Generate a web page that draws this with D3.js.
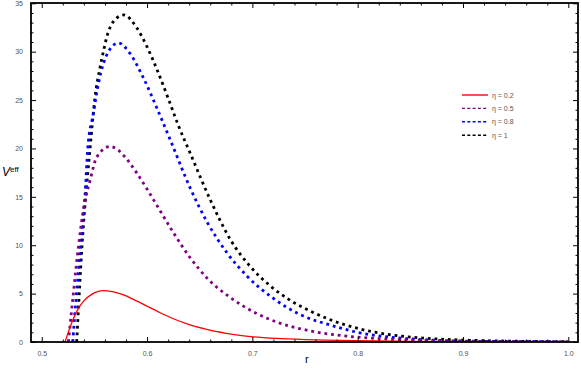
<!DOCTYPE html>
<html>
<head>
<meta charset="utf-8">
<script src="https://cdn.jsdelivr.net/npm/d3@7"></script>
<style>
  body { margin: 0; background: #fff; }
  .tick text { font-family: "Liberation Sans", Arial, sans-serif; font-size: 7px; fill: #555; }
</style>
</head>
<body>
<svg id="chart" width="581" height="369"></svg>
<script>
// series (r, V_eff)
var r02 = [0.5221, 0.526, 0.530, 0.535, 0.540, 0.547, 0.553, 0.5585, 0.567, 0.577, 0.590, 0.600, 0.612, 0.625, 0.640, 0.6567, 0.675, 0.690, 0.710, 0.733, 0.770, 0.800, 0.850, 0.900, 0.950, 1.000];
var v02 = [0, 1.25, 2.4, 3.5, 4.25, 4.9, 5.2, 5.3, 5.2, 4.9, 4.25, 3.7, 3.05, 2.4, 1.8, 1.3, 0.9, 0.65, 0.45, 0.33, 0.2, 0.14, 0.07, 0.04, 0.02, 0.01];

var r05 = [0.5253, 0.530, 0.535, 0.540, 0.5459, 0.5522, 0.5649, 0.573, 0.5807, 0.590, 0.600, 0.610, 0.625, 0.641, 0.657, 0.679, 0.704, 0.726, 0.755, 0.790, 0.821, 0.866, 0.900, 0.950, 1.000];
var v05 = [0, 5, 10, 14, 16.7, 19.1, 20.2, 19.8, 18.9, 17.5, 15.8, 14.0, 11.3, 8.7, 6.6, 4.6, 2.95, 1.95, 1.15, 0.6, 0.35, 0.14, 0.07, 0.03, 0.01];

var r08 = [0.5294, 0.533, 0.537, 0.541, 0.5437, 0.549, 0.5538, 0.5633, 0.5728, 0.5839, 0.5965, 0.610, 0.622, 0.641, 0.657, 0.676, 0.695, 0.720, 0.745, 0.774, 0.802, 0.831, 0.866, 0.900, 0.950, 1.000];
var v08 = [0, 5, 10, 15, 20, 23.6, 26.7, 30.0, 30.9, 29.8, 27.3, 24.0, 20.9, 15.9, 12.4, 9.2, 6.8, 4.5, 2.85, 1.75, 0.95, 0.5, 0.22, 0.1, 0.04, 0.02];

var r10 = [0.5332, 0.5383, 0.5459, 0.5506, 0.5554, 0.5585, 0.5617, 0.568, 0.578, 0.590, 0.600, 0.610, 0.620, 0.630, 0.641, 0.660, 0.679, 0.698, 0.717, 0.736, 0.755, 0.774, 0.802, 0.831, 0.866, 0.900, 0.950, 1.000];
var v10 = [0, 10, 20, 25.3, 28.4, 30, 31.5, 33.1, 33.8, 32.5, 30.5, 28.0, 25.2, 22.3, 19.5, 14.7, 10.6, 7.8, 5.8, 4.3, 3.2, 2.3, 1.35, 0.75, 0.38, 0.2, 0.08, 0.03];

var names = ["\u03B7 = 0.2", "\u03B7 = 0.5", "\u03B7 = 0.8", "\u03B7 = 1"];
var colors = ["#ff0000", "#800080", "#0000ff", "#000000"];
var xMajor = [0.5, 0.6, 0.7, 0.8, 0.9, 1.0];
var yMajor = [0, 5, 10, 15, 20, 25, 30, 35];

var series = [
  {name: names[0], color: colors[0], dotted: false, pts: r02.map(function(r, i) { return [r, v02[i]]; })},
  {name: names[1], color: colors[1], dotted: true,  pts: r05.map(function(r, i) { return [r, v05[i]]; })},
  {name: names[2], color: colors[2], dotted: true,  pts: r08.map(function(r, i) { return [r, v08[i]]; })},
  {name: names[3], color: colors[3], dotted: true,  pts: r10.map(function(r, i) { return [r, v10[i]]; })}
];

var svg = d3.select("#chart"),
    margin = {top: 3, right: 3, bottom: 27, left: 31},
    width = +svg.attr("width") - margin.left - margin.right,
    height = +svg.attr("height") - margin.top - margin.bottom,
    g = svg.append("g").attr("transform", "translate(" + margin.left + "," + margin.top + ")");

var x = d3.scaleLinear().domain([0.4898, 1.0092]).range([0, width]),
    y = d3.scaleLinear().domain([0, 35.03]).range([height, 0]);

var xMinor = d3.range(0.5, 1.001, 0.02).filter(function(v) { return Math.abs(v * 10 - Math.round(v * 10)) > 1e-6; });
var yMinor = d3.range(0, 36, 1).filter(function(v) { return v % 5 !== 0; });

// clip the curves to the frame
g.append("clipPath").attr("id", "clip")
  .append("rect").attr("width", width).attr("height", height);

var line = d3.line()
  .curve(d3.curveMonotoneX)
  .x(function(d) { return x(d[0]); })
  .y(function(d) { return y(d[1]); });

var plot = g.append("g").attr("clip-path", "url(#clip)");
// draw black first so the lower curves sit on top like the reference
series.slice().reverse().forEach(function(s) {
  plot.append("path")
    .attr("d", line(s.pts))
    .attr("fill", "none")
    .attr("stroke", s.color)
    .attr("stroke-width", s.dotted ? 2.8 : 1.3)
    .attr("stroke-dasharray", s.dotted ? "2.8,3.9" : null);
});

// axes: major with labels, minor ticks, mirrored on top/right
function styleAxis(sel) {
  sel.select(".domain").remove();
  sel.selectAll(".tick line").attr("stroke", "#000").attr("stroke-width", 1);
}
g.append("g").attr("transform", "translate(0," + height + ")")
  .call(d3.axisBottom(x).tickValues(xMajor).tickSize(-5).tickPadding(9).tickFormat(d3.format(".1f")))
  .call(styleAxis);
g.append("g").attr("transform", "translate(0," + height + ")")
  .call(d3.axisBottom(x).tickValues(xMinor).tickSize(-2.5).tickFormat(""))
  .call(styleAxis);
g.append("g")
  .call(d3.axisTop(x).tickValues(xMajor).tickSize(-5).tickFormat(""))
  .call(styleAxis);
g.append("g")
  .call(d3.axisTop(x).tickValues(xMinor).tickSize(-2.5).tickFormat(""))
  .call(styleAxis);
g.append("g")
  .call(d3.axisLeft(y).tickValues(yMajor).tickSize(-5).tickPadding(8))
  .call(styleAxis);
g.append("g")
  .call(d3.axisLeft(y).tickValues(yMinor).tickSize(-2.5).tickFormat(""))
  .call(styleAxis);
g.append("g").attr("transform", "translate(" + width + ",0)")
  .call(d3.axisRight(y).tickValues(yMajor).tickSize(-5).tickFormat(""))
  .call(styleAxis);
g.append("g").attr("transform", "translate(" + width + ",0)")
  .call(d3.axisRight(y).tickValues(yMinor).tickSize(-2.5).tickFormat(""))
  .call(styleAxis);

g.append("rect")
  .attr("width", width).attr("height", height)
  .attr("fill", "none").attr("stroke", "#000").attr("stroke-width", 1.8);

// axis labels
svg.append("text")
  .attr("x", 305).attr("y", 363)
  .attr("font-family", "Liberation Sans, Arial, sans-serif")
  .attr("font-size", 11).attr("fill", "#000")
  .text("r");
var yl = svg.append("text")
  .attr("x", 2).attr("y", 176)
  .attr("font-family", "Liberation Sans, Arial, sans-serif")
  .attr("fill", "#000");
yl.append("tspan").attr("font-size", 12).attr("font-style", "italic").text("V");
yl.append("tspan").attr("font-size", 8).attr("dy", -4).text("eff");

// legend
var leg = svg.append("g").attr("transform", "translate(462,95)");
series.forEach(function(s, i) {
  var row = leg.append("g").attr("transform", "translate(0," + (i * 13.4) + ")");
  row.append("line")
    .attr("x1", 0).attr("x2", 26).attr("y1", 0).attr("y2", 0)
    .attr("stroke", s.color).attr("stroke-width", 1.4)
    .attr("stroke-dasharray", s.dotted ? "3,2.3" : null);
  row.append("text")
    .attr("x", 30).attr("y", 2.5)
    .attr("font-family", "Liberation Sans, Arial, sans-serif")
    .attr("font-size", 7).attr("fill", "#555")
    .text(s.name);
});
</script>
</body>
</html>
